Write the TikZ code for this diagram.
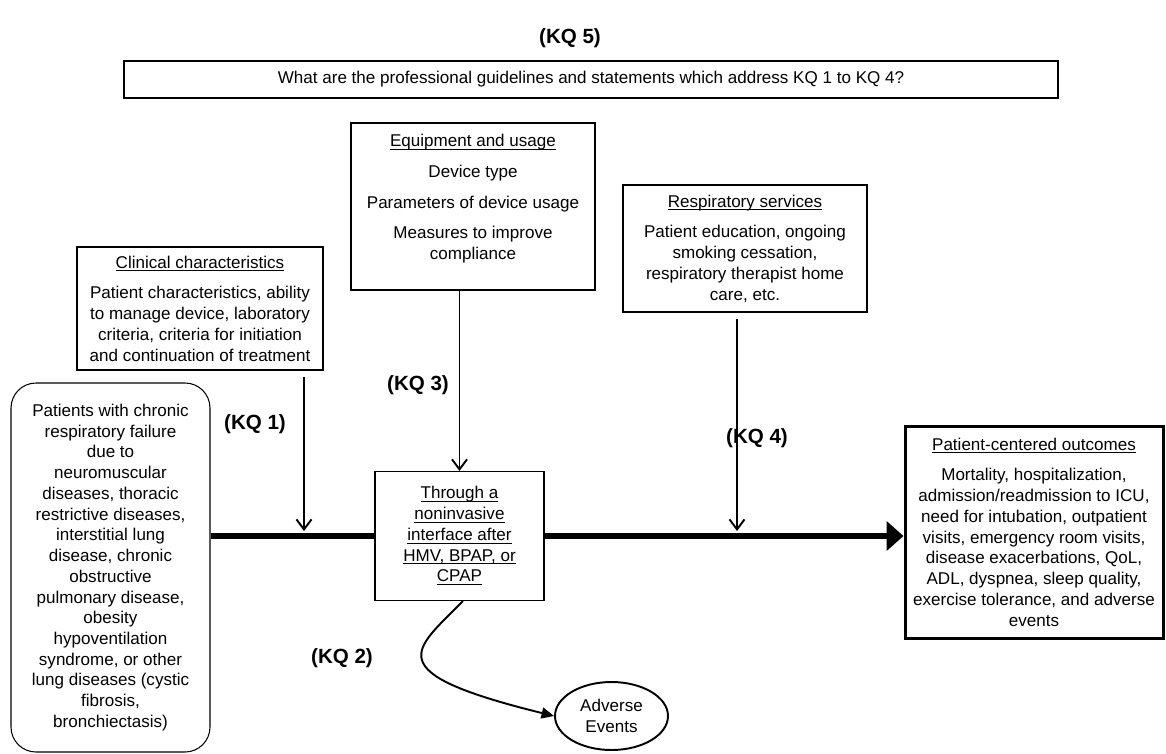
\documentclass[tikz,border=0pt]{standalone}
\usepackage{fontspec}
\setmainfont{Liberation Sans}
\usetikzlibrary{arrows.meta,shapes.geometric,calc}

\newcommand{\uline}[1]{\underline{\smash{#1}}\vphantom{#1}}

\begin{document}
\begin{tikzpicture}[
	every node/.style={font=\fontsize{9.7}{11.8}\selectfont, align=center},
	kqlabel/.style={font=\fontsize{11.7}{14}\selectfont\bfseries},
	textbox/.style={draw, line width=0.6pt, inner sep=2pt},
	feed/.style={line width=1.1pt, -{Straight Barb[length=0.2cm,width=0.3cm]}},
	mainline/.style={line width=3.4pt}
]
	\useasboundingbox (0,0) rectangle (23.32,-15.06);

	\node[kqlabel] (kq5) at (11.4,-0.76) {(KQ 5)};
	\node[textbox, minimum width=18.68cm, minimum height=0.74cm] (guide) at (11.82,-1.59) {What are the professional guidelines and statements which address KQ 1 to KQ 4?};

	% boxes feeding into the main line
	\node[textbox, minimum width=4.88cm, minimum height=3.34cm] (equip) at (9.46,-4.13) {\uline{Equipment and usage}\\[5.7pt] Device type\\[5.7pt] Parameters of device usage\\[5.7pt] Measures to improve\\ compliance\\[-1pt]\mbox{}};
	\node[textbox, minimum width=4.88cm, minimum height=2.54cm] (resp) at (14.9,-4.97) {\uline{Respiratory services}\\[5.7pt] Patient education, ongoing\\ smoking cessation,\\ respiratory therapist home\\ care, etc.};
	\node[textbox, minimum width=4.92cm, minimum height=2.46cm] (clin) at (4.0,-6.17) {\uline{Clinical characteristics}\\[5.7pt] Patient characteristics, ability\\ to manage device, laboratory\\ criteria, criteria for initiation\\ and continuation of treatment};

	\node[draw, line width=0.6pt, rounded corners=0.5cm, minimum width=3.98cm, minimum height=7.38cm] (pat) at (2.21,-11.35) {Patients with chronic\\ respiratory failure\\ due to\\ neuromuscular\\ diseases, thoracic\\ restrictive diseases,\\ interstitial lung\\ disease, chronic\\ obstructive\\ pulmonary disease,\\ obesity\\ hypoventilation\\ syndrome, or other\\ lung diseases (cystic\\ fibrosis,\\ bronchiectasis)};
	\node[textbox, minimum width=3.38cm, minimum height=2.58cm] (thru) at (9.19,-10.72) {\uline{Through a}\\ \uline{noninvasive}\\ \uline{interface after}\\ \uline{HMV, BPAP, or}\\ \uline{CPAP}};
	\node[textbox, line width=1.7pt, minimum width=5.16cm, minimum height=4.24cm] (outc) at (20.68,-10.64) {\uline{Patient-centered outcomes}\\[5.7pt] Mortality, hospitalization,\\ admission/readmission to ICU,\\ need for intubation, outpatient\\ visits, emergency room visits,\\ disease exacerbations, QoL,\\ ADL, dyspnea, sleep quality,\\ exercise tolerance, and adverse\\ events};
	\node[draw, ellipse, line width=1.1pt, inner sep=0pt, minimum width=2.26cm, minimum height=1.36cm] (adv) at (12.23,-14.32) {Adverse\\Events};

	% key question labels
	\node[kqlabel] (kq1) at (5.1,-8.48) {(KQ 1)};
	\node[kqlabel] (kq3) at (8.36,-7.7) {(KQ 3)};
	\node[kqlabel] (kq4) at (15.14,-8.76) {(KQ 4)};
	\node[kqlabel] (kq2) at (6.84,-13.16) {(KQ 2)};

	\coordinate (kq1top) at (6.08,-7.54);
	\coordinate (kq1foot) at (6.08,-10.62);
	\coordinate (kq4top) at (14.74,-6.38);
	\coordinate (kq4foot) at (14.74,-10.62);

	\draw[mainline] (pat.east |- thru.west) -- (thru.west);
	\draw[mainline, -{Triangle[length=0.34cm,width=0.58cm]}] (thru.east) -- (thru.east -| outc.west);

	\draw[feed] (kq1top) -- (kq1foot);
	\draw[feed] (equip.south -| thru.north) -- (thru.north);
	\draw[feed] (kq4top) -- (kq4foot);

	\draw[line width=1.1pt, -{Triangle[length=0.25cm,width=0.22cm]}] ([xshift=0.07cm]thru.south) .. controls (8.3,-13.0) and (7.5,-13.44) .. (adv.west);
\end{tikzpicture}
\end{document}
